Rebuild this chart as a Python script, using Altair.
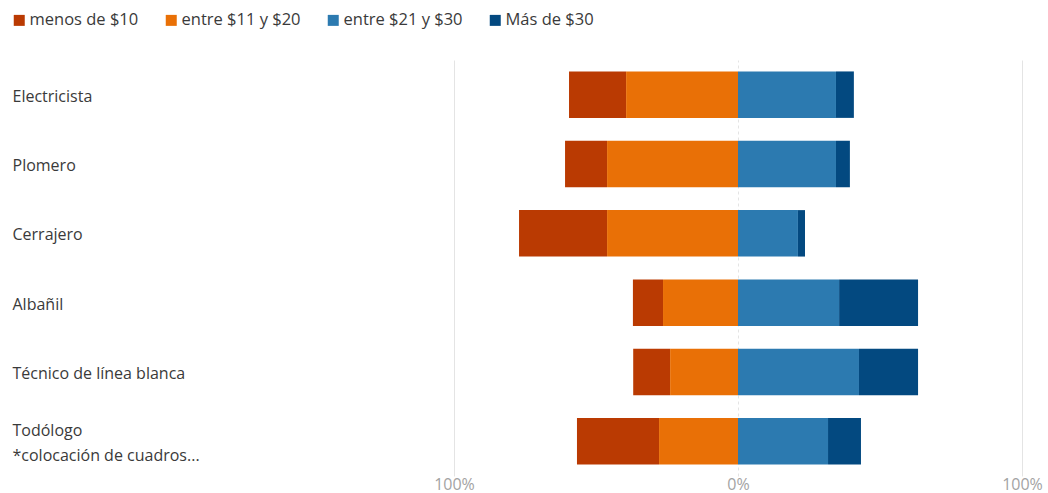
import altair as alt
import pandas as pd

# ---- data ----
oficios = [
    "Electricista",
    "Plomero",
    "Cerrajero",
    "Albañil",
    "Técnico de línea blanca",
    "Todólogo|*colocación de cuadros...",
]
rangos = ["menos de $10", "entre $11 y $20", "entre $21 y $30", "Más de $30"]
menos_10 = [20.1, 14.8, 31.0, 10.6, 13.0, 28.9]
entre_11_20 = [39.4, 46.1, 46.1, 26.4, 23.9, 27.8]
entre_21_30 = [34.5, 34.5, 21.1, 35.6, 42.6, 31.7]
mas_30 = [6.3, 4.9, 2.5, 27.8, 20.8, 11.6]
colores = ["#BA3A02", "#E97006", "#2C7AB0", "#034980"]
x_ticks = [-1, 0, 1]

rows = []
for i, o in enumerate(oficios):
    a = menos_10[i] / 100
    b = entre_11_20[i] / 100
    c = entre_21_30[i] / 100
    d = mas_30[i] / 100
    rows.append(dict(oficio=o, rango=rangos[0], ini=-(a + b), fin=-b, pct=a))
    rows.append(dict(oficio=o, rango=rangos[1], ini=-b, fin=0.0, pct=b))
    rows.append(dict(oficio=o, rango=rangos[2], ini=0.0, fin=c, pct=c))
    rows.append(dict(oficio=o, rango=rangos[3], ini=c, fin=c + d, pct=d))
df = pd.DataFrame(rows)

FONT = "Open Sans"

bars = alt.Chart(df).mark_bar().encode(
    x=alt.X(
        "ini:Q",
        scale=alt.Scale(domain=[-1, 1], nice=False, zero=False),
        axis=alt.Axis(
            values=x_ticks,
            labelExpr="format(abs(datum.value), '.0%')",
            title=None,
            domain=False,
            ticks=False,
            grid=True,
            gridColor="#e4e4e4",
            gridDash={"condition": {"test": "datum.value === 0", "value": [3, 3]}, "value": []},
            labelColor="#a3a3a3",
            labelFontSize=16,
            labelFlush=False,
            labelPadding=0,
            labelFont=FONT,
        ),
    ),
    x2="fin:Q",
    y=alt.Y(
        "oficio:N",
        sort=oficios,
        scale=alt.Scale(paddingInner=0.33, paddingOuter=0.165),
        axis=alt.Axis(
            title=None,
            domain=False,
            ticks=False,
            labelAlign="left",
            labelPadding=442,
            labelExpr="split(datum.label, '|')",
            labelFontSize=16,
            labelColor="#3a3a3a",
            labelLineHeight=25,
            labelLimit=0,
            labelOffset={"condition": {"test": "indexof(datum.label, '|') >= 0", "value": -10}, "value": 2},
            labelFont=FONT,
        ),
    ),
    color=alt.Color(
        "rango:N",
        sort=rangos,
        scale=alt.Scale(domain=rangos, range=colores),
        legend=alt.Legend(
            orient="none",
            legendX=-443,
            legendY=-48,
            direction="horizontal",
            title=None,
            symbolType="square",
            symbolSize=121,
            symbolStrokeWidth=0,
            symbolOpacity=1,
            labelFontSize=16.5,
            labelColor="#3a3a3a",
            labelFont=FONT,
            columnPadding=24,
            labelOffset=2,
        ),
    ),
    tooltip=["oficio:N", "rango:N", alt.Tooltip("pct:Q", format=".1%")],
)

chart = bars.properties(
    width=568,
    height=416,
    autosize=alt.AutoSizeParams(type="none"),
    padding={"left": 454, "top": 60, "right": 26, "bottom": 17},
).configure(font=FONT).configure_view(stroke=None)

chart.save("out.html", embed_options={"renderer": "svg", "actions": False})
